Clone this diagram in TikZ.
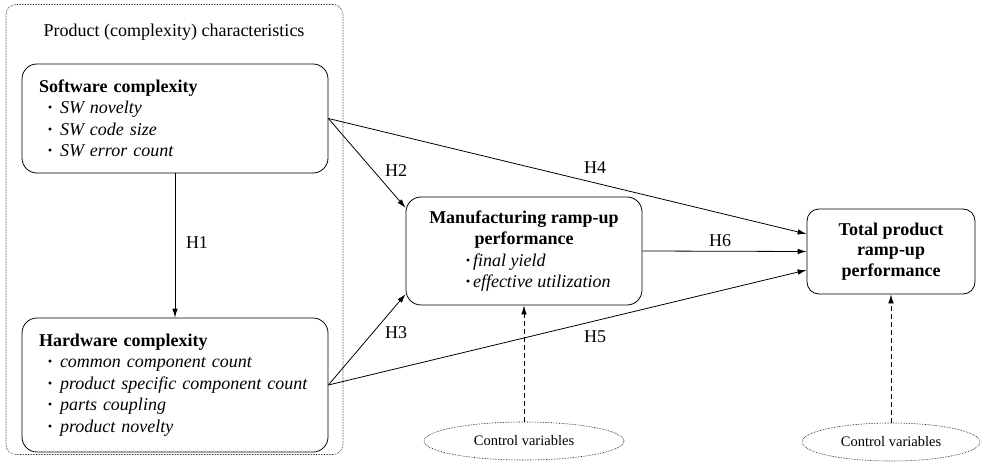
\documentclass[tikz,border=0pt]{standalone}
\usepackage{fontspec}
\setmainfont{Liberation Serif}
\usetikzlibrary{arrows.meta,shapes.geometric}
\newcommand{\bulletitem}[1]{\hspace*{8pt}\textbf{\textperiodcentered}\hspace{7pt}\textit{#1}}
\newcommand{\mfgitem}[1]{\hspace*{29pt}\makebox[147pt][l]{\textbf{\textperiodcentered}\hspace{2pt}\textit{#1}}}

\begin{document}
\begin{tikzpicture}[x=1pt, y=-1pt,
    font=\fontsize{18}{21.5}\selectfont,
    blockbox/.style={draw, rounded corners=15pt, line width=0.8pt},
    ctrlvar/.style={draw, ellipse, densely dotted, line width=0.6pt, inner sep=0pt,
      font=\fontsize{14.5}{17}\selectfont},
    hyp/.style={-{Latex[length=9pt,width=5.5pt]}, line width=0.8pt},
    ctrl/.style={-{Latex[length=9pt,width=5.5pt]}, dash pattern=on 5pt off 3pt, line width=0.8pt},
    hlabel/.style={inner sep=0pt}]
    \useasboundingbox (0,0) rectangle (982,465);
    % product characteristics
    \node[draw, densely dotted, rounded corners=10pt, line width=0.6pt,
      minimum width=337pt, minimum height=450pt] (prodchar) at (174.5,229.5) {};
    \node (prodtitle) at (174,32) {Product (complexity) characteristics};
    \node[blockbox, minimum width=306pt, minimum height=109pt, text width=272pt,
      inner xsep=17pt, align=left] (sw) at (175,118.5)
      {\textbf{Software complexity}\\
       \bulletitem{SW novelty}\\
       \bulletitem{SW code size}\\
       \bulletitem{SW error count}};
    \node[blockbox, minimum width=306pt, minimum height=134pt, text width=272pt,
      inner xsep=17pt, align=left] (hw) at (175,385)
      {\textbf{Hardware complexity}\\
       \bulletitem{common component count}\\
       \bulletitem{product specific component count}\\
       \bulletitem{parts coupling}\\
       \bulletitem{product novelty}};
    % performance
    \node[blockbox, minimum width=236pt, minimum height=108pt, align=center] (mfg) at (524,251)
      {\textbf{Manufacturing ramp-up}\\
       \textbf{performance}\\
       \mfgitem{final yield}\\
       \mfgitem{effective utilization}};
    \node[blockbox, rounded corners=12pt, minimum width=168pt, minimum height=85pt,
      align=center, font=\fontsize{18}{20.5}\selectfont\bfseries] (tot) at (891,251.5)
      {Total product\\ ramp-up\\ performance};
    \node[ctrlvar, minimum width=200pt, minimum height=38pt] (ctrl1) at (524,441) {Control variables};
    \node[ctrlvar, minimum width=178pt, minimum height=38pt] (ctrl2) at (891,442) {Control variables};
    % hypotheses
    \draw[hyp] (sw.south) -- (hw.north);
    \draw[hyp] (sw.east) -- (mfg.160);
    \draw[hyp] (sw.east) -- ([yshift=17.5pt]tot.west);
    \draw[hyp] (hw.east) -- (mfg.200);
    \draw[hyp] (hw.east) -- ([yshift=-18.5pt]tot.west);
    \draw[hyp] (mfg.east) -- (tot.west);
    \draw[ctrl] (ctrl1.north) -- (mfg.south);
    \draw[ctrl] (ctrl2.north) -- (tot.south);
    \node[hlabel] (h1) at (197,243) {H1};
    \node[hlabel] (h2) at (396,171) {H2};
    \node[hlabel] (h3) at (396,333) {H3};
    \node[hlabel] (h4) at (595,168) {H4};
    \node[hlabel] (h5) at (595,337) {H5};
    \node[hlabel] (h6) at (720,241) {H6};
\end{tikzpicture}
\end{document}
